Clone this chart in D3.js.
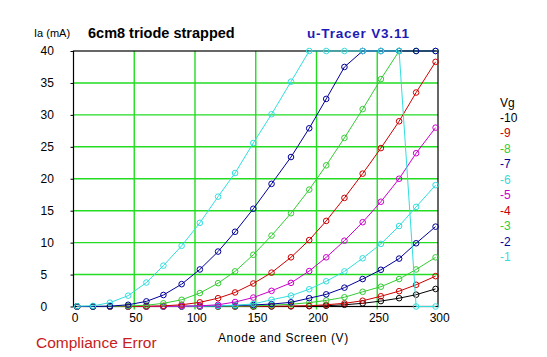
<!DOCTYPE html>
<html><head><meta charset="utf-8">
<script src="https://cdn.jsdelivr.net/npm/d3@7/dist/d3.min.js"></script>
<style>body{margin:0;background:#fff}svg{display:block}</style>
</head><body>
<script>
// ---- data ----
const voltages = [3,16,30,45,60,74,89,104,119,133,148,163,179,194,208,223,238,253,268,282,298];
const gridVoltages = [-10,-9,-8,-7,-6,-5,-4,-3,-2,-1];
const ia_m10 = [0,0,0,0,0,0,0,0,0,0,0,0,0.02,0.05,0.12,0.27,0.5,0.85,1.3,1.85,2.75];
const ia_m9  = [0,0,0,0,0,0,0,0,0,0,0.02,0.04,0.07,0.12,0.27,0.5,0.9,1.6,2.4,3.4,4.75];
const ia_m8  = [0,0,0,0,0,0,0,0,0.02,0.05,0.1,0.2,0.35,0.6,0.95,1.45,2.3,3.1,4.3,5.8,7.7];
const ia_m7  = [0,0,0,0,0,0,0.02,0.04,0.08,0.15,0.25,0.38,0.65,1.3,1.9,2.95,4.3,5.75,7.5,9.9,12.5];
const ia_m6  = [0,0,0,0,0,0.02,0.03,0.05,0.1,0.2,0.4,1.05,1.7,2.7,3.95,5.5,7.55,9.8,12.6,15.6,19.0];
const ia_m5  = [0,0,0,0,0,0.02,0.05,0.1,0.27,0.7,1.4,2.45,3.7,5.55,7.7,10.3,13.2,16.4,20.0,24.0,28.0];
const ia_m4  = [0,0,0,0,0.04,0.1,0.27,0.65,1.3,2.2,3.6,5.3,7.7,10.4,13.4,17.0,20.8,24.8,29.0,33.5,38.3];
const ia_m3  = [0,0,0.02,0.08,0.2,0.5,1.05,2.1,3.65,5.5,8.1,11.1,14.6,18.3,22.1,26.4,30.9,35.6,40,40,40];
const ia_m2  = [0,0,0.05,0.27,0.8,1.8,3.5,5.8,8.6,11.7,15.3,19.2,23.4,27.9,32.5,37.5,40,40,40,40,40];
const ia_m1  = [0.05,0.1,0.6,1.7,3.75,6.4,9.5,13.1,17.2,20.9,25.6,30.1,35.2,40,40,40,40,40,40,0,0];
const seriesValues = [ia_m10, ia_m9, ia_m8, ia_m7, ia_m6, ia_m5, ia_m4, ia_m3, ia_m2, ia_m1];
const seriesColors = ["#000000","#cc0000","#33cc33","#000099","#33dddd","#cc00cc","#cc0000","#33cc33","#000099","#33dddd"];
const xTicks = [0,50,100,150,200,250,300];
const yTicks = [0,5,10,15,20,25,30,35,40];

// ---- chart ----
const W = 547, H = 357;
const L = 73.5, R = 438, T = 51, B = 306.5;
const FONT = "'Liberation Sans', Arial, sans-serif";
const svg = d3.select("body").append("svg").attr("width", W).attr("height", H)
  .style("font-family", FONT);

const x = d3.scaleLinear().domain([0, 300]).range([L, R]);
const y = d3.scaleLinear().domain([0, 40]).range([B, T]);
const green = "#22dd22";

// grid
svg.append("g").selectAll("line").data(xTicks.filter(d => d > 0 && d < 300)).join("line")
  .attr("x1", d => x(d)).attr("x2", d => x(d)).attr("y1", T).attr("y2", B + 3)
  .attr("stroke", green).attr("stroke-width", 1.4);
svg.append("g").selectAll("line").data(yTicks.filter(d => d > 0 && d < 40)).join("line")
  .attr("x1", L).attr("x2", R).attr("y1", d => y(d)).attr("y2", d => y(d))
  .attr("stroke", green).attr("stroke-width", 1.4);

// frame
svg.append("rect").attr("x", L).attr("y", T).attr("width", R - L).attr("height", B - T)
  .attr("fill", "none").attr("stroke", "#000").attr("stroke-width", 1.2);

// y axis
const ya = svg.append("g").attr("transform", `translate(${L},0)`)
  .call(d3.axisLeft(y).tickValues(yTicks).tickSize(3).tickFormat(d3.format("d")));
ya.select(".domain").remove();
ya.selectAll("line").attr("stroke", "#000");
ya.selectAll("text").attr("text-anchor", "start").attr("x", -(L - 40.5)).attr("dy", "0.32em")
  .style("font-size", "12px").style("font-family", FONT).attr("fill", "#000");

// x axis labels
const xa = svg.append("g").attr("transform", `translate(0,${B})`)
  .call(d3.axisBottom(x).tickValues(xTicks).tickSize(0).tickPadding(7).tickFormat(d3.format("d")));
xa.select(".domain").remove();
xa.selectAll("text").style("font-size", "12px").style("font-family", FONT).attr("fill", "#000")
  .attr("dx", "0.1em");

// curves
const line = d3.line().x((d, i) => x(voltages[i])).y(d => y(d));
seriesValues.forEach((vals, k) => {
  const g = svg.append("g");
  g.append("path").datum(vals).attr("d", line).attr("fill", "none")
    .attr("stroke", seriesColors[k]).attr("stroke-width", 1);
  g.selectAll("circle").data(vals).join("circle")
    .attr("cx", (d, i) => x(voltages[i])).attr("cy", d => y(d)).attr("r", 2.8)
    .attr("fill", "none").attr("stroke", seriesColors[k]).attr("stroke-width", 1);
});

// texts
svg.append("text").attr("x", 34).attr("y", 37).text("Ia (mA)").style("font-size", "11px");
svg.append("text").attr("x", 88).attr("y", 38).text("6cm8 triode strapped")
  .style("font-size", "14.5px").style("font-weight", "bold");
svg.append("text").attr("x", 307).attr("y", 38).text("u-Tracer V3.11")
  .style("font-size", "13.5px").style("font-weight", "bold").attr("fill", "#1c1cb4")
  .style("letter-spacing", "0.8px");
svg.append("text").attr("x", 218).attr("y", 342).text("Anode and Screen (V)")
  .style("font-size", "12px").style("letter-spacing", "0.6px");
svg.append("text").attr("x", 36).attr("y", 348).text("Compliance Error")
  .style("font-size", "15.5px").attr("fill", "#c82020");

// legend
svg.append("text").attr("x", 500).attr("y", 107).text("Vg").style("font-size", "12px");
svg.append("g").selectAll("text").data(gridVoltages).join("text")
  .attr("x", 500).attr("y", (d, i) => 122 + i * 15.45)
  .text(d => d).attr("fill", (d, i) => seriesColors[i]).style("font-size", "12px");
</script>
</body></html>
